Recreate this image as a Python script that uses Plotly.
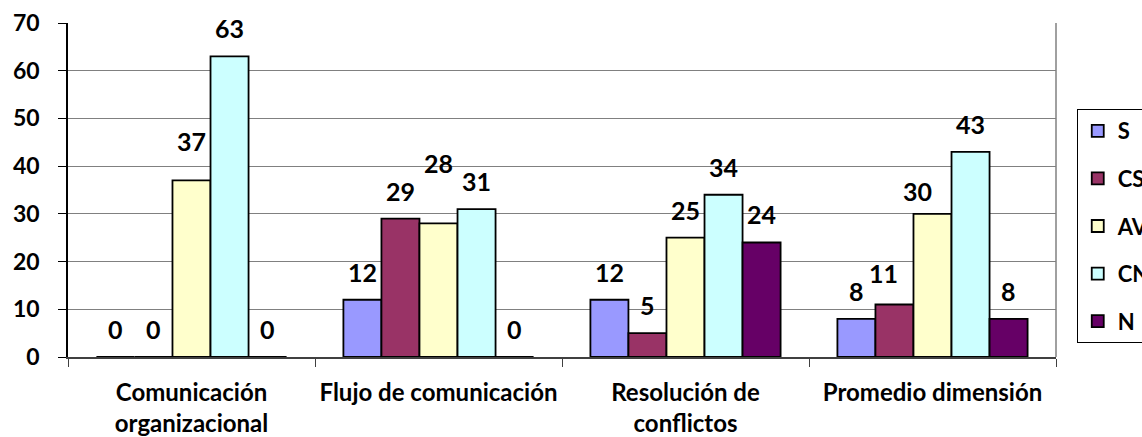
import plotly.graph_objects as go

categories = ["Comunicación<br>organizacional", "Flujo de comunicación",
              "Resolución de<br>conflictos", "Promedio dimensión"]
series_names = ["S", "CS", "AV", "CN", "N"]
S = [0, 12, 12, 8]
CS = [0, 29, 5, 11]
AV = [37, 28, 25, 30]
CN = [63, 31, 34, 43]
N = [0, 0, 24, 8]
y_ticks = [0, 10, 20, 30, 40, 50, 60, 70]

series_values = [S, CS, AV, CN, N]
colors = ["#9999FF", "#993366", "#FFFFCC", "#CCFFFF", "#660066"]

# label nudges in pixels (dx, dy) keyed by (category index, series index)
label_nudges = {(0, 2): (0, 11), (1, 2): (0, 32), (3, 1): (-11, 4), (3, 2): (-15, -5)}

BARGAP = 0.23
FONT = "Lato"

fig = go.Figure()
for name, vals, col in zip(series_names, series_values, colors):
    fig.add_trace(go.Bar(
        x=categories, y=vals, name=name, legendgroup=name,
        marker=dict(color=col, line=dict(color="black", width=1.8)),
    ))

nser = len(series_names)
bw = (1 - BARGAP) / nser
for j, vals in enumerate(series_values):
    for i, v in enumerate(vals):
        dx, dy = label_nudges.get((i, j), (0, 0))
        fig.add_annotation(
            x=i + (j - (nser - 1) / 2) * bw, y=v, xref="x", yref="y",
            text=str(v), showarrow=False, yanchor="middle", xanchor="center",
            yshift=28 + dy, xshift=dx,
            font=dict(family=FONT, size=25, color="black", weight="bold"),
        )

fig.add_shape(type="line", xref="paper", yref="paper", x0=1, x1=1, y0=0, y1=1,
              line=dict(color="#808080", width=1.5))

fig.update_layout(
    width=1142, height=437,
    margin=dict(l=68, r=86, t=23, b=80, autoexpand=False),
    paper_bgcolor="white", plot_bgcolor="white",
    barmode="group", bargap=BARGAP, bargroupgap=0,
    font=dict(family=FONT, color="black"),
    legend=dict(
        x=1.021, y=0.7425, xanchor="left", yanchor="top",
        bordercolor="black", borderwidth=1, bgcolor="white",
        font=dict(family=FONT, size=22, color="black", weight="bold"),
        tracegroupgap=16, traceorder="grouped",
    ),
    xaxis=dict(
        type="category", showline=True, linecolor="#404040", linewidth=1.5,
        ticks="outside", tickson="boundaries", ticklen=8, tickcolor="#404040",
        tickfont=dict(family=FONT, size=24, color="black", weight="bold"),
        tickangle=0, ticklabelstandoff=13, showgrid=False,
    ),
    yaxis=dict(
        range=[0, 70], tickvals=y_ticks, showline=True, linecolor="black",
        linewidth=1.5, ticks="outside", ticklen=8, tickcolor="black",
        tickfont=dict(family=FONT, size=23, color="black", weight="bold"),
        ticklabelstandoff=14, ticklabeloverflow="allow", showgrid=True,
        gridcolor="#808080", gridwidth=1.2, zeroline=False,
    ),
    showlegend=True,
)

fig.write_html("out.html", config={"displayModeBar": False},
               post_script="document.body.style.margin='0';")
